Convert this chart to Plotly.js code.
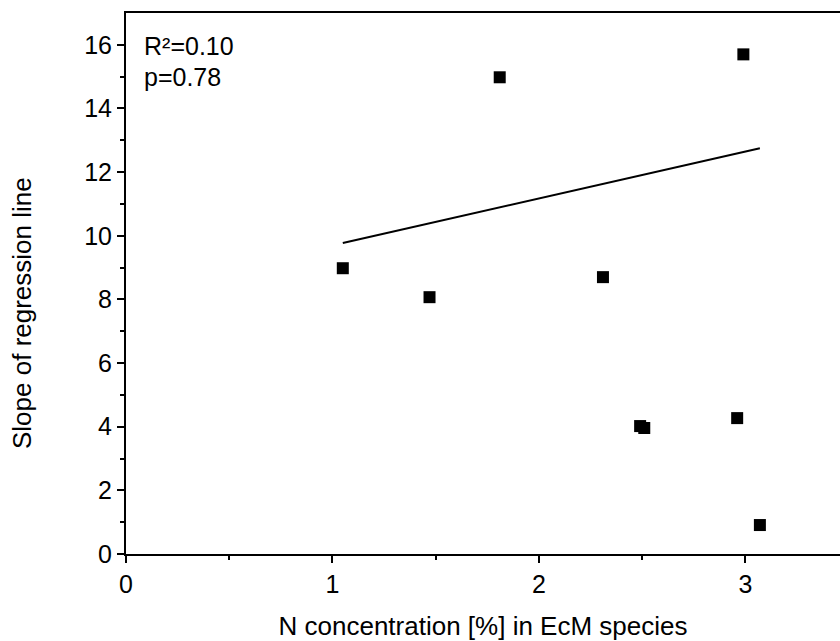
<!DOCTYPE html>
<html>
<head>
<meta charset="utf-8">
<script src="https://cdn.plot.ly/plotly-3.0.1.min.js"></script>
<style>html,body{margin:0;padding:0;background:#fff;}#chart{width:840px;height:641px;}</style>
</head>
<body>
<div id="chart"></div>
<script>
// Data
const nConcentration = [1.05, 1.47, 1.81, 2.31, 2.99, 2.49, 2.51, 2.96, 3.07];
const regressionSlope = [8.98, 8.07, 14.98, 8.70, 15.70, 4.02, 3.96, 4.27, 0.91];
const fitX = [1.05, 3.07];
const fitY = [9.77, 12.75];
const statLabels = ["R²=0.10", "p=0.78"];
const xTickVals = [0, 1, 2, 3];
const yTickVals = [0, 2, 4, 6, 8, 10, 12, 14, 16];
const xTitle = "N concentration [%] in EcM species";
const yTitle = "Slope of regression line";

const font = {family: "Liberation Sans, Arial, sans-serif", size: 25, color: "#000"};
const titleFont = {family: "Liberation Sans, Arial, sans-serif", size: 26, color: "#000"};

const traces = [
  {
    x: nConcentration, y: regressionSlope, type: "scatter", mode: "markers",
    marker: {symbol: "square", size: 12, color: "#000"},
    showlegend: false, hoverinfo: "skip"
  },
  {
    x: fitX, y: fitY, type: "scatter", mode: "lines",
    line: {color: "#000", width: 2},
    showlegend: false, hoverinfo: "skip"
  }
];

const plotTop = 13, plotBottom = 554, plotLeft = 126, plotRight = 840;
const ph = plotBottom - plotTop, pw = plotRight - plotLeft;
const labelCentersPx = [46, 77];

const annotations = statLabels.map((t, i) => ({
  text: t, xref: "paper", yref: "paper",
  x: 16 / pw, y: (plotBottom - labelCentersPx[i]) / ph, xanchor: "left", yanchor: "middle",
  showarrow: false, font: font
}));
annotations.push({
  text: yTitle, xref: "paper", yref: "paper", textangle: -90,
  x: (22 - plotLeft) / pw, y: (plotBottom - 313) / ph, xanchor: "center", yanchor: "middle",
  showarrow: false, font: titleFont
});

const layout = {
  width: 840, height: 641,
  margin: {l: plotLeft, r: 840 - plotRight, t: plotTop, b: 641 - plotBottom, pad: 0},
  paper_bgcolor: "#fff", plot_bgcolor: "#fff",
  font: font,
  showlegend: false,
  xaxis: {
    range: [0, 3.458], tickvals: xTickVals, ticktext: xTickVals.map(String),
    showline: true, linecolor: "#000", linewidth: 2, mirror: true,
    ticks: "outside", ticklen: 7, tickwidth: 2, tickcolor: "#000",
    showgrid: false, zeroline: false,
    minor: {tickvals: [0.5, 1.5, 2.5], ticks: "outside", ticklen: 4, tickwidth: 2, tickcolor: "#000", showgrid: false},
    tickfont: font,
    title: {text: xTitle, font: titleFont, standoff: 20}
  },
  yaxis: {
    range: [0, 17], tickvals: yTickVals, ticktext: yTickVals.map(String),
    showline: true, linecolor: "#000", linewidth: 2, mirror: false,
    ticks: "outside", ticklen: 7, tickwidth: 2, tickcolor: "#000",
    showgrid: false, zeroline: false,
    minor: {tickvals: [1, 3, 5, 7, 9, 11, 13, 15], ticks: "outside", ticklen: 4, tickwidth: 2, tickcolor: "#000", showgrid: false},
    tickfont: font
  },
  annotations: annotations
};

Plotly.newPlot("chart", traces, layout, {staticPlot: true, displayModeBar: false});
</script>
</body>
</html>
